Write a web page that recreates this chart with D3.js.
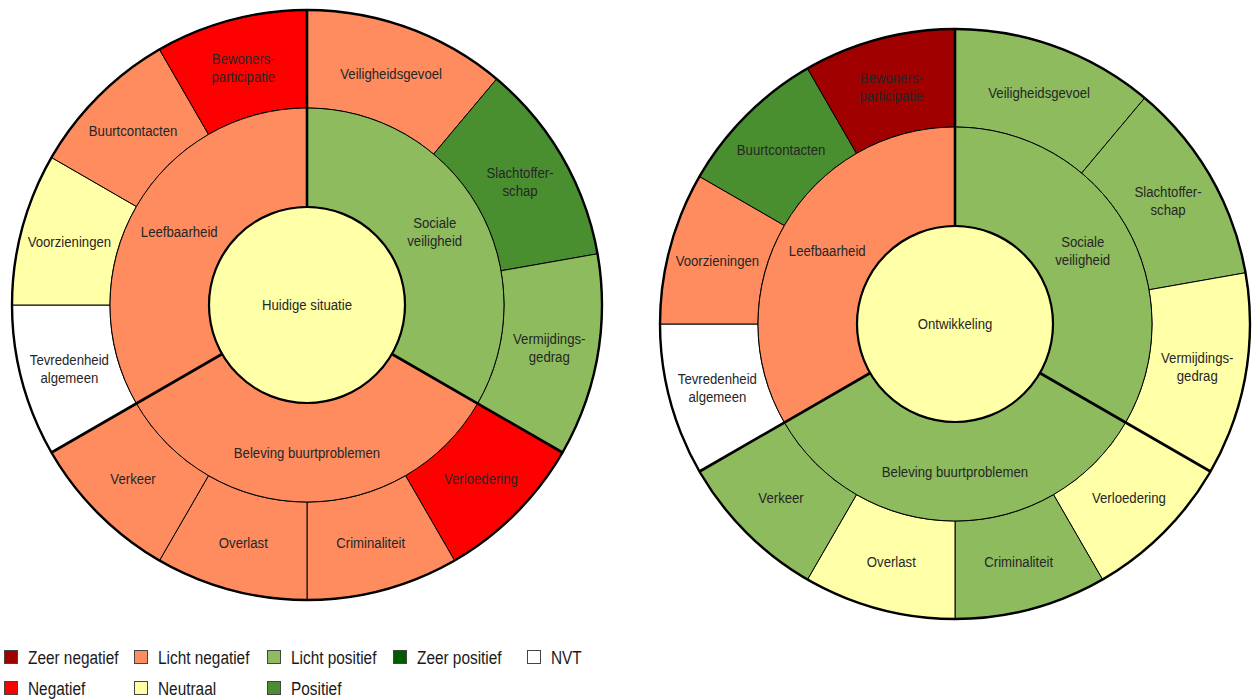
<!DOCTYPE html>
<html>
<head>
<meta charset="utf-8">
<script src="https://cdn.jsdelivr.net/npm/d3@7"></script>
<style>
  html, body { margin: 0; padding: 0; background: #fff; }
  svg { display: block; }
  text { font-family: "Liberation Sans", Arial, sans-serif; }
</style>
</head>
<body>
<svg id="chart" width="1258" height="699"></svg>
<script>
// ---------- DATA ----------
// Score scale: -3 zeer negatief ... +3 zeer positief, null = NVT
const levelNames = ["Zeer negatief", "Negatief", "Licht negatief", "Neutraal", "Licht positief", "Positief", "Zeer positief", "NVT"];
const levelScores = [-3, -2, -1, 0, 1, 2, 3, null];

const categories = ["Sociale\nveiligheid", "Beleving buurtproblemen", "Leefbaarheid"];
const socialeItems = ["Veiligheidsgevoel", "Slachtoffer-\nschap", "Vermijdings-\ngedrag"];
const belevingItems = ["Verloedering", "Criminaliteit", "Overlast", "Verkeer"];
const leefbaarItems = ["Tevredenheid\nalgemeen", "Voorzieningen", "Buurtcontacten", "Bewoners-\nparticipatie"];

const chartTitles = ["Huidige situatie", "Ontwikkeling"];
const centerScores = [0, 0];

// Huidige situatie
const huidigeCategoryScores = [1, -1, -1];
const huidigeSociale = [-1, 2, 1];
const huidigeBeleving = [-2, -1, -1, -1];
const huidigeLeefbaar = [null, 0, -1, -2];

// Ontwikkeling
const ontwCategoryScores = [1, 1, -1];
const ontwSociale = [1, 1, 0];
const ontwBeleving = [0, 1, 0, 1];
const ontwLeefbaar = [null, -1, 2, -3];

// ---------- STYLE / LAYOUT ----------
const levelColors = ["#a00000", "#ff0000", "#ff8c5e", "#ffffa8", "#8dbb5e", "#4a8f2f", "#005a00", "#ffffff"];
const colorOf = d3.scaleOrdinal().domain(levelScores.map(s => String(s))).range(levelColors);
const fillFor = s => colorOf(String(s));

const svg = d3.select("#chart");
const R0 = 98, R1 = 197, R2 = 295;
const labelFont = 15.5, labelSX = 0.85, lineH = 18;

function drawLabel(g, text, x, y) {
  const lines = text.split("\n");
  const t = g.append("text")
    .attr("transform", `translate(${x},${y}) scale(${labelSX},1)`)
    .attr("text-anchor", "middle")
    .attr("font-size", labelFont)
    .attr("fill", "#262626");
  lines.forEach((ln, i) => {
    t.append("tspan")
      .attr("x", 0)
      .attr("y", (i - (lines.length - 1) / 2) * lineH)
      .attr("dy", "0.35em")
      .text(ln);
  });
}

function drawSunburst(cx, cy, title, centerScore, catScores, itemLists, itemScores) {
  const g = svg.append("g").attr("transform", `translate(${cx},${cy})`);
  const catPie = d3.pie().sort(null).value(() => 1);
  const catArcs = catPie(categories.map((c, i) => ({ name: c, score: catScores[i], items: itemLists[i], scores: itemScores[i] })));

  const midArc = d3.arc().innerRadius(R0).outerRadius(R1);
  const outArc = d3.arc().innerRadius(R1).outerRadius(R2);

  // outer ring items
  catArcs.forEach(ca => {
    const itemPie = d3.pie().sort(null).value(() => 1)
      .startAngle(ca.startAngle).endAngle(ca.endAngle);
    const itArcs = itemPie(ca.data.items.map((n, j) => ({ name: n, score: ca.data.scores[j] })));
    g.selectAll(null).data(itArcs).enter().append("path")
      .attr("d", outArc)
      .attr("fill", d => fillFor(d.data.score))
      .attr("stroke", "#000").attr("stroke-width", 1);
    itArcs.forEach(d => {
      const [x, y] = outArc.centroid(d);
      drawLabel(g, d.data.name, x, y);
    });
  });

  // middle ring categories
  g.selectAll(null).data(catArcs).enter().append("path")
    .attr("d", midArc)
    .attr("fill", d => fillFor(d.data.score))
    .attr("stroke", "#000").attr("stroke-width", 1);
  catArcs.forEach(d => {
    const [x, y] = midArc.centroid(d);
    drawLabel(g, d.data.name, x, y);
  });

  // center circle
  g.append("circle").attr("r", R0)
    .attr("fill", fillFor(centerScore))
    .attr("stroke", "#000").attr("stroke-width", 2.2);
  drawLabel(g, title, 0, 0);

  // thick category boundaries
  catArcs.forEach(d => {
    const p0 = d3.pointRadial(d.startAngle, R0);
    const p1 = d3.pointRadial(d.startAngle, R2);
    g.append("line")
      .attr("x1", p0[0]).attr("y1", p0[1])
      .attr("x2", p1[0]).attr("y2", p1[1])
      .attr("stroke", "#000").attr("stroke-width", 2.6);
  });

  // outer border
  g.append("circle").attr("r", R2)
    .attr("fill", "none").attr("stroke", "#000").attr("stroke-width", 2.4);
}

drawSunburst(307, 305, chartTitles[0], centerScores[0], huidigeCategoryScores,
  [socialeItems, belevingItems, leefbaarItems], [huidigeSociale, huidigeBeleving, huidigeLeefbaar]);
drawSunburst(955, 324, chartTitles[1], centerScores[1], ontwCategoryScores,
  [socialeItems, belevingItems, leefbaarItems], [ontwSociale, ontwBeleving, ontwLeefbaar]);

// ---------- LEGEND ----------
// grid placement: [column, row] per level (order as in levelNames)
const legendCols = [4, 134, 267, 393, 527];
const legendRows = [650, 681];
const legendPlace = [[0, 0], [0, 1], [1, 0], [1, 1], [2, 0], [2, 1], [3, 0], [4, 0]];
const lg = svg.append("g");
levelNames.forEach((name, i) => {
  const [c, r] = legendPlace[i];
  const x = legendCols[c], y = legendRows[r];
  lg.append("rect")
    .attr("x", x + 0.5).attr("y", y + 0.5).attr("width", 13).attr("height", 13)
    .attr("fill", fillFor(levelScores[i]))
    .attr("stroke", "#444").attr("stroke-width", 1);
  lg.append("text")
    .attr("transform", `translate(${x + 24},${y + 13.5}) scale(0.81,1)`)
    .attr("font-size", 19)
    .attr("fill", "#1a1a1a")
    .text(name);
});
</script>
</body>
</html>
